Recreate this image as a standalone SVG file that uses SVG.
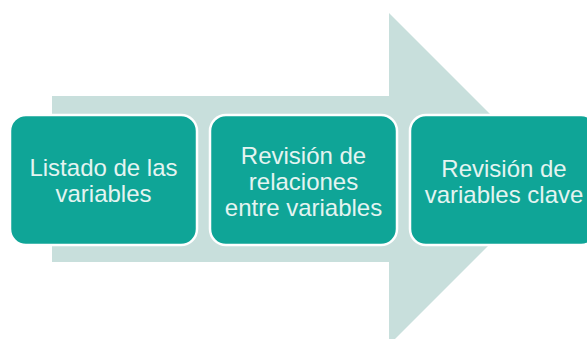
<svg xmlns="http://www.w3.org/2000/svg" width="587" height="339" viewBox="0 0 587 339">
<style>
.box{fill:#0fa597;stroke:#ffffff;stroke-width:2.5}
.lbl{font-family:"Liberation Sans",Arial,sans-serif;font-size:24px;fill:#e4f4f1;text-anchor:middle}
</style>
<rect width="587" height="339" fill="#ffffff"/>
<g id="connectors">
<polygon points="52,96 389,96 389,13 555,179 389,345 389,262 52,262" fill="#c8dfdc"/>
</g>
<g id="node1">
<rect class="box" x="10" y="115" width="187" height="130" rx="16"/>
<text class="lbl" x="103.5" y="176">Listado de las</text>
<text class="lbl" x="103.5" y="202">variables</text>
</g>
<g id="node2">
<rect class="box" x="210" y="115" width="187" height="130" rx="16"/>
<text class="lbl" x="303.5" y="164">Revisión de</text>
<text class="lbl" x="303.5" y="190">relaciones</text>
<text class="lbl" x="303.5" y="216">entre variables</text>
</g>
<g id="node3">
<rect class="box" x="410" y="115" width="187" height="130" rx="16"/>
<text class="lbl" x="504" y="177">Revisión de</text>
<text class="lbl" x="504" y="203">variables clave</text>
</g>
</svg>
